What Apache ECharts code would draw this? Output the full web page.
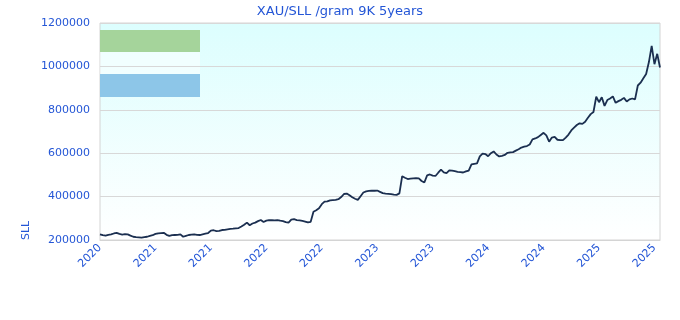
<!DOCTYPE html>
<html>
<head>
<meta charset="utf-8">
<script src="https://cdn.jsdelivr.net/npm/echarts@6/dist/echarts.min.js"></script>
<style>
html,body{margin:0;padding:0;background:#fff;}
#c{width:680px;height:320px;}
</style>
</head>
<body>
<div id="c"></div>
<script>
var titleText = 'XAU/SLL /gram 9K 5years';
var yName = 'SLL';
var tickYears = ['2020','2021','2021','2022','2022','2023','2023','2024','2024','2025','2025'];
var labelEvery = 20;
// price in thousands SLL per gram
var priceK = [
226,222,220,224,226,230,233,228,225,227,
226,220,215,213,212,211,213,215,219,222,
228,231,232,233,224,219,222,223,224,226,
215,219,223,225,226,224,223,226,229,232,
243,245,241,242,246,247,249,251,252,254,
255,262,270,280,268,276,280,287,292,283,
289,292,291,290,292,289,287,282,280,294,
296,292,290,288,285,281,284,330,337,346,
365,377,378,383,384,385,388,398,412,414,
406,397,390,385,402,419,424,426,428,427,
428,422,416,414,413,411,409,408,415,494,
487,481,483,484,485,484,472,465,498,502,
497,495,510,524,512,508,521,520,517,514,
513,511,516,520,548,551,553,585,598,596,
586,600,608,594,585,588,592,602,604,605,
612,618,626,630,633,640,664,668,674,684,
694,682,653,672,675,662,660,660,672,686,
705,718,730,738,735,745,763,780,790,860,
835,858,818,845,852,862,832,840,846,855,
838,848,852,848,912,925,945,965,1020,1095,
1010,1058,995
];

var cats = priceK.map(function(v,i){
  return (i % labelEvery === 0 && tickYears[i/labelEvery]) ? tickYears[i/labelEvery] : ('p'+i);
});
var values = priceK.map(function(v){ return v*1000; });

var blue = '#2456d6';
var chart = echarts.init(document.getElementById('c'));
chart.setOption({
  animation:false,
  title:{text:titleText,left:'center',top:0,textStyle:{color:blue,fontSize:13,fontWeight:'normal',fontFamily:'DejaVu Sans'}},
  grid:{left:100,right:20,top:23,bottom:80,show:true,borderColor:'#d4d4d4',borderWidth:1,
    backgroundColor:new echarts.graphic.LinearGradient(0,0,0,1,[{offset:0,color:'#dcfefe'},{offset:1,color:'#ffffff'}])},
  xAxis:{type:'category',data:cats,boundaryGap:false,
    axisLine:{show:true,lineStyle:{color:'#d4d4d4'}},axisTick:{show:false},
    splitLine:{show:false},
    axisLabel:{color:blue,fontSize:11,fontFamily:'DejaVu Sans',rotate:45,margin:6,
      interval:function(i){return i % labelEvery === 0;},
      formatter:function(v){return v.charAt(0)==='p'?'':v;}}},
  yAxis:{type:'value',min:200000,max:1200000,interval:200000,
    axisLine:{show:false},axisTick:{show:false},
    splitLine:{lineStyle:{color:'#d8d8d8'}},
    axisLabel:{color:blue,fontSize:11,fontFamily:'DejaVu Sans',margin:10,
      formatter:function(v){return String(v);}}},
  graphic:[
    {type:'rect',left:100,top:30,shape:{width:100,height:22},style:{fill:'#a5d49b'}},
    {type:'rect',left:100,top:52,shape:{width:100,height:22},style:{fill:'rgba(255,255,255,0.5)'}},
    {type:'rect',left:100,top:74,shape:{width:100,height:23},style:{fill:'#8dc6e8'}},
    {type:'text',x:21,y:240,rotation:Math.PI/2,style:{text:yName,fill:blue,fontSize:11,fontFamily:'DejaVu Sans'}}
  ],
  series:[{type:'line',data:values,symbol:'none',lineStyle:{color:'#1b2f50',width:1.8},z:3}]
});
</script>
</body>
</html>
